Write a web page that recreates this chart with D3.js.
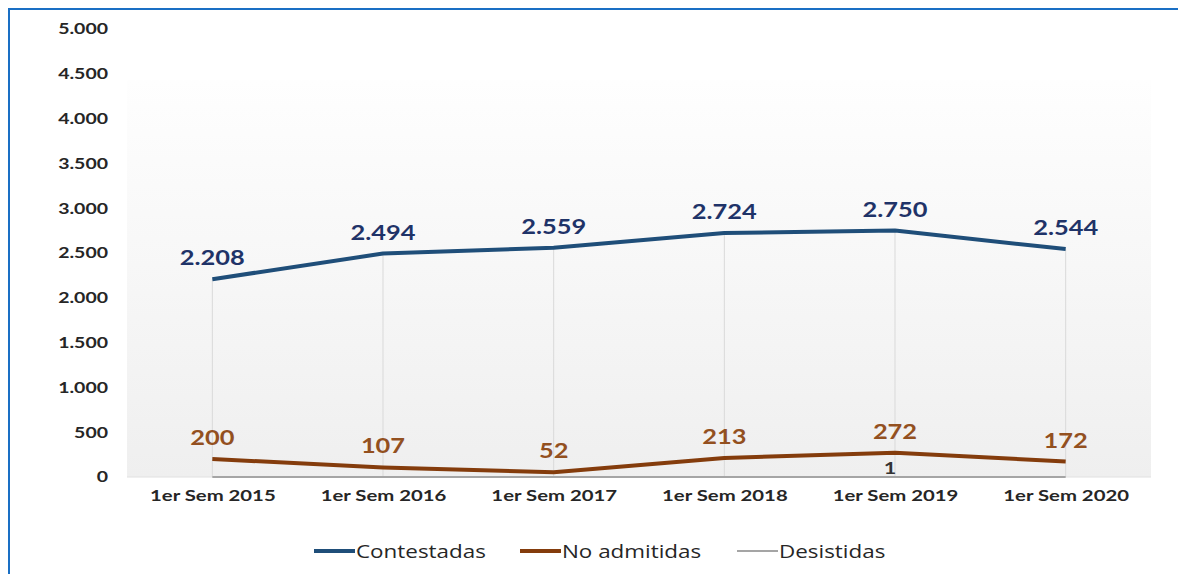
<!DOCTYPE html>
<html>
<head>
<meta charset="utf-8">
<script src="https://cdn.jsdelivr.net/npm/d3@7"></script>
<style>
  body { margin: 0; background: #fff; }
  .tick text { font-family: Lato, "Open Sans", sans-serif; font-weight: bold; fill: #262626; }
  text { transform-box: fill-box; }
  .wide-mid { transform: scaleX(1.27); transform-origin: center; }
  .wide-end { transform: scaleX(1.3); transform-origin: right center; }
  .wide-start { transform: scaleX(1.18); transform-origin: left center; }
</style>
</head>
<body>
<div class="chart"></div>
<script>
// Chart data
var categories = ["1er Sem 2015", "1er Sem 2016", "1er Sem 2017", "1er Sem 2018", "1er Sem 2019", "1er Sem 2020"];
var contestadas = [2208, 2494, 2559, 2724, 2750, 2544];
var noAdmitidas = [200, 107, 52, 213, 272, 172];
var desistidas = [0, 0, 0, 0, 1, 0];
var yTicks = [0, 500, 1000, 1500, 2000, 2500, 3000, 3500, 4000, 4500, 5000];

var seriesNames = ["Contestadas", "No admitidas", "Desistidas"];

var svgWidth = 1178, svgHeight = 574;
var margin = { top: 29, right: 30, bottom: 97, left: 127 };
var width = 1151 - margin.left;
var height = svgHeight - margin.top - margin.bottom;

var es = d3.formatLocale({ decimal: ",", thousands: ".", grouping: [3], currency: ["", "€"] });
var fmt = es.format(",d");

var svg = d3.select(".chart")
  .append("svg")
  .attr("width", svgWidth)
  .attr("height", svgHeight);

// outer blue frame (only top/left visible)
svg.append("rect")
  .attr("x", 9).attr("y", 9)
  .attr("width", 1200).attr("height", 600)
  .attr("fill", "none")
  .attr("stroke", "#1a6fc4")
  .attr("stroke-width", 2);

var defs = svg.append("defs");
var grad = defs.append("linearGradient")
  .attr("id", "bg").attr("x1", 0).attr("y1", 0).attr("x2", 0).attr("y2", 1);
grad.append("stop").attr("offset", "0%").attr("stop-color", "#fefefe");
grad.append("stop").attr("offset", "100%").attr("stop-color", "#efefef");

var chartGroup = svg.append("g")
  .attr("transform", `translate(${margin.left}, ${margin.top})`);

var xScale = d3.scalePoint()
  .domain(categories)
  .range([0, width])
  .padding(0.5);

var yScale = d3.scaleLinear()
  .domain([0, 5000])
  .range([height, 0]);

// plot area background
chartGroup.append("rect")
  .attr("x", 0)
  .attr("y", yScale(4430))
  .attr("width", width)
  .attr("height", height - yScale(4430))
  .attr("fill", "url(#bg)");

// drop lines
chartGroup.selectAll(".drop")
  .data(categories)
  .enter()
  .append("line")
  .attr("x1", d => xScale(d))
  .attr("x2", d => xScale(d))
  .attr("y1", (d, i) => yScale(contestadas[i]))
  .attr("y2", yScale(0))
  .attr("stroke", "#d9d9d9")
  .attr("stroke-width", 1);

// baseline
chartGroup.append("line")
  .attr("x1", 0).attr("x2", width)
  .attr("y1", yScale(0)).attr("y2", yScale(0))
  .attr("stroke", "#e0e0e0");

// y axis
var leftAxis = d3.axisLeft(yScale)
  .tickValues(yTicks)
  .tickFormat(fmt)
  .tickSize(0)
  .tickPadding(19);

var yAxis = chartGroup.append("g").call(leftAxis);
yAxis.select(".domain").remove();
yAxis.selectAll("text").style("font-size", "15px").classed("wide-end", true);

// x axis
var bottomAxis = d3.axisBottom(xScale).tickSize(0).tickPadding(13);
var xAxis = chartGroup.append("g")
  .attr("transform", `translate(0, ${height})`)
  .call(bottomAxis);
xAxis.select(".domain").remove();
xAxis.selectAll("text").style("font-size", "16px").classed("wide-mid", true);

// lines
var line = d3.line()
  .x((d, i) => xScale(categories[i]))
  .y(d => yScale(d));

var series = [
  { name: seriesNames[0], values: contestadas, color: "#1f4e79", label: "#1f3368", w: 4 },
  { name: seriesNames[1], values: noAdmitidas, color: "#843c0c", label: "#93501f", w: 4 },
  { name: seriesNames[2], values: desistidas, color: "#a5a5a5", label: "#333333", w: 2 }
];

series.slice().reverse().forEach(function(s) {
  chartGroup.append("path")
    .datum(s.values)
    .attr("d", line)
    .attr("fill", "none")
    .attr("stroke", s.color)
    .attr("stroke-width", s.w)
    .attr("stroke-linejoin", "round");
});

// data labels
[series[0], series[1]].forEach(function(s) {
  chartGroup.selectAll(null)
    .data(s.values)
    .enter()
    .append("text")
    .attr("class", "wide-mid")
    .attr("x", (d, i) => xScale(categories[i]))
    .attr("y", d => yScale(d) - 14)
    .attr("text-anchor", "middle")
    .attr("fill", s.label)
    .style("font-family", "Lato, 'Open Sans', sans-serif")
    .style("font-weight", "bold")
    .style("font-size", "20px")
    .text(d => fmt(d));
});

// desistidas: only the non-zero label
chartGroup.selectAll(null)
  .data(desistidas.map((v, i) => ({ v: v, c: categories[i] })).filter(d => d.v > 0))
  .enter()
  .append("text")
  .attr("class", "wide-mid")
  .attr("x", d => xScale(d.c) - 5)
  .attr("y", d => yScale(d.v) - 3)
  .attr("text-anchor", "middle")
  .attr("fill", "#333333")
  .style("font-family", "Lato, 'Open Sans', sans-serif")
  .style("font-weight", "bold")
  .style("font-size", "17px")
  .text(d => fmt(d.v));

// legend
var legendX = [314, 520, 737];
var legend = svg.append("g").attr("transform", "translate(0, 551)");
series.forEach(function(s, i) {
  legend.append("line")
    .attr("x1", legendX[i]).attr("x2", legendX[i] + 41)
    .attr("y1", 0).attr("y2", 0)
    .attr("stroke", s.color)
    .attr("stroke-width", s.w);
  legend.append("text")
    .attr("class", "wide-start")
    .attr("x", legendX[i] + 42)
    .attr("y", 7)
    .attr("fill", "#262626")
    .style("font-family", "'Open Sans', sans-serif")
    .style("font-size", "19px")
    .text(s.name);
});
</script>
</body>
</html>
